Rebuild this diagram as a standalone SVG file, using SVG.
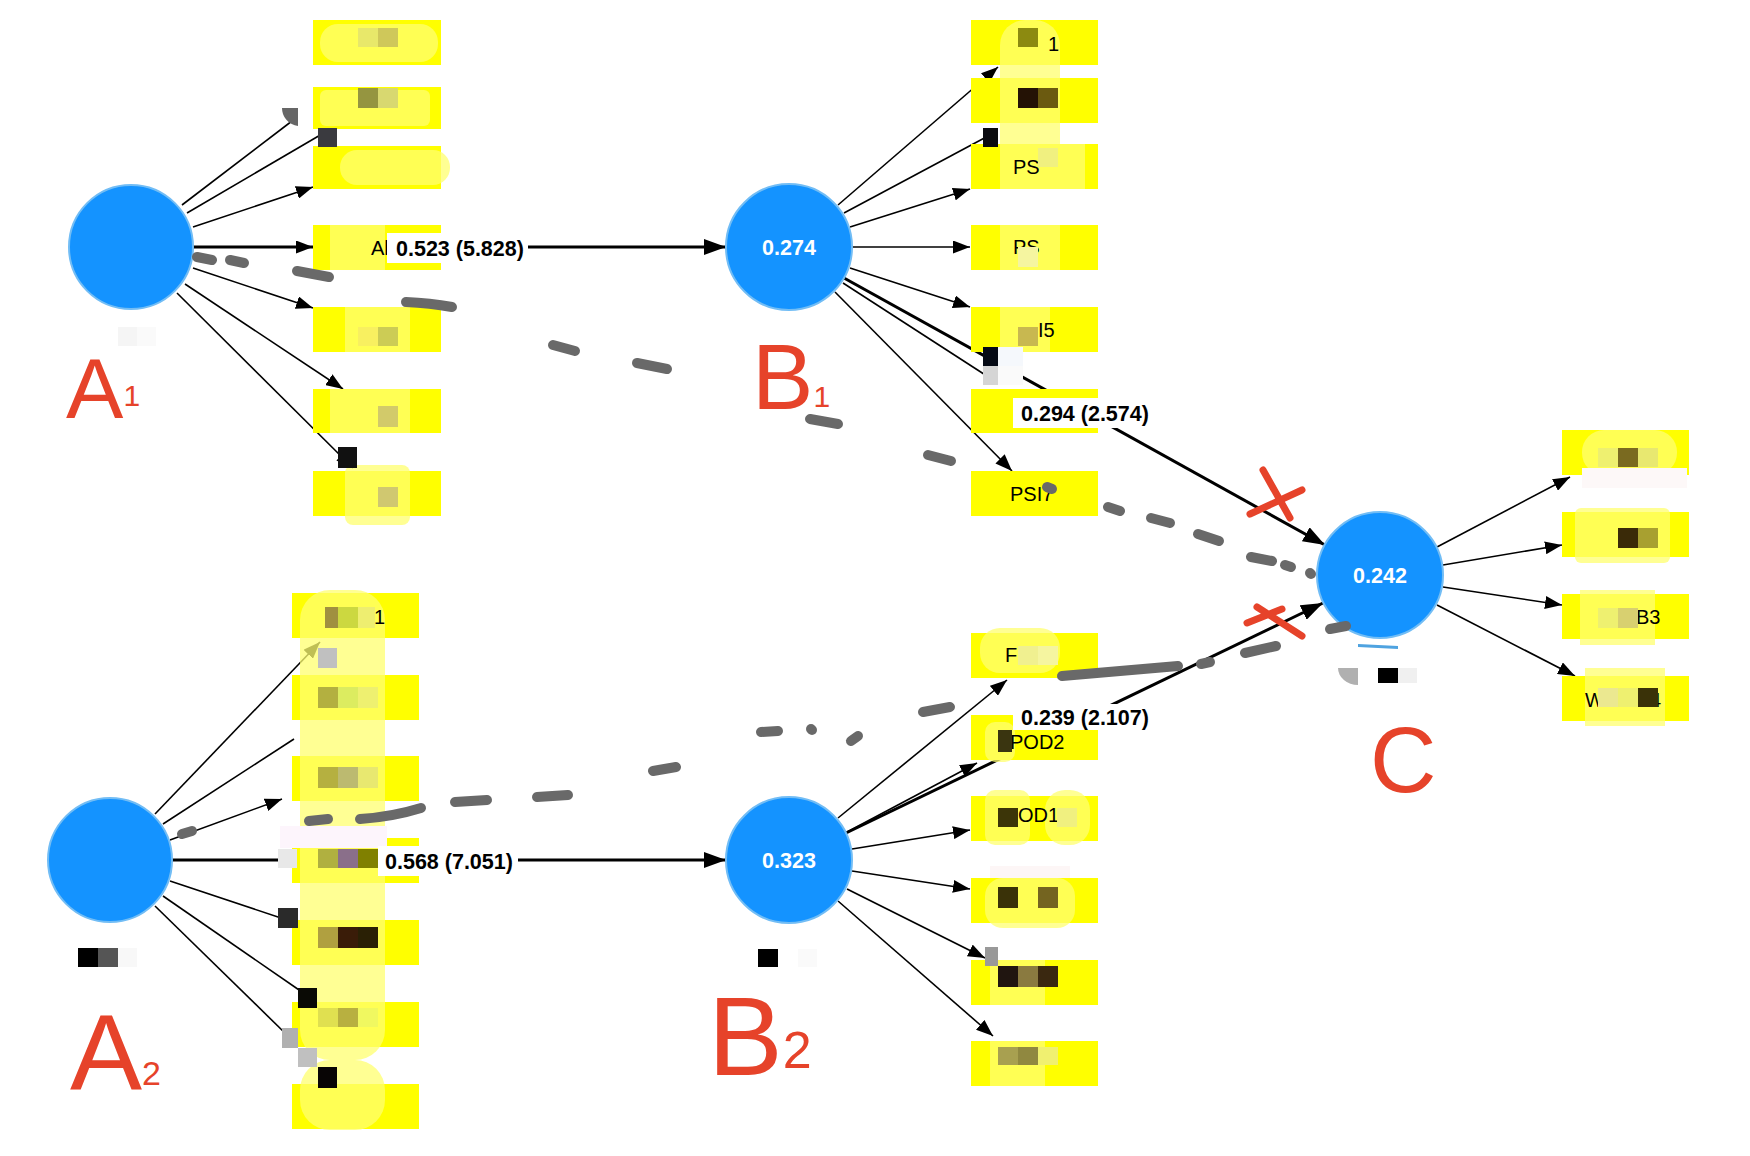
<svg xmlns="http://www.w3.org/2000/svg" width="1750" height="1156" viewBox="0 0 1750 1156">
<style>
.ind{stroke:#000;stroke-width:1.6;fill:none}
.str{stroke:#000;stroke-width:3;fill:none}
.box{fill:#ffff00}
.lite{fill:#ffff70}
.lv{fill:#1493ff;stroke:#72bdf5;stroke-width:2}
.lvt{font-family:"Liberation Sans",Arial,sans-serif;font-weight:bold;font-size:21.5px;fill:#fff;text-anchor:middle}
.plab{font-family:"Liberation Sans",Arial,sans-serif;font-weight:bold;font-size:21.5px;fill:#000}
.bt{font-family:"Liberation Sans",Arial,sans-serif;font-size:20px;fill:#000}
.lbg{fill:#fff}
.dash{stroke:#696969;stroke-width:10;stroke-linecap:round;fill:none}
.red{stroke:#e6432a;stroke-width:7;stroke-linecap:round;fill:none}
.hand{font-family:"Liberation Sans",Arial,sans-serif;fill:#e6432a}
</style>
<defs>
<marker id="ah" markerUnits="userSpaceOnUse" markerWidth="22" markerHeight="16" refX="22" refY="8" orient="auto"><path d="M0,0 L22,8 L0,16 z" fill="#000"/></marker>
<marker id="at" markerUnits="userSpaceOnUse" markerWidth="17" markerHeight="13" refX="17" refY="6.5" orient="auto"><path d="M0,0 L17,6.5 L0,13 z" fill="#000"/></marker>
</defs>
<rect width="1750" height="1156" fill="#fff"/>

<g id="connectors">
<line class="str" x1="193" y1="247" x2="726" y2="247" marker-end="url(#ah)"/>
<line class="str" x1="172" y1="860" x2="726" y2="860" marker-end="url(#ah)"/>
<line class="str" x1="844" y1="278" x2="1325" y2="545" marker-end="url(#ah)"/>
<line class="str" x1="846" y1="833" x2="1323" y2="603" marker-end="url(#ah)"/>
<line class="ind" x1="182" y1="205" x2="292" y2="121"/>
<line class="ind" x1="187" y1="213" x2="322" y2="134"/>
<line class="ind" x1="193" y1="227" x2="313" y2="187" marker-end="url(#at)"/>
<line class="ind" x1="193" y1="247" x2="313" y2="247" marker-end="url(#at)"/>
<line class="ind" x1="193" y1="268" x2="313" y2="308" marker-end="url(#at)"/>
<line class="ind" x1="185" y1="284" x2="343" y2="389" marker-end="url(#at)"/>
<line class="ind" x1="177" y1="293" x2="353" y2="468" marker-end="url(#at)"/>
<line class="ind" x1="838" y1="205" x2="998" y2="67" marker-end="url(#at)"/>
<line class="ind" x1="844" y1="213" x2="990" y2="135"/>
<line class="ind" x1="850" y1="227" x2="970" y2="189" marker-end="url(#at)"/>
<line class="ind" x1="852" y1="247" x2="970" y2="247" marker-end="url(#at)"/>
<line class="ind" x1="850" y1="268" x2="970" y2="307" marker-end="url(#at)"/>
<line class="ind" x1="843" y1="283" x2="990" y2="378"/>
<line class="ind" x1="835" y1="292" x2="1012" y2="471" marker-end="url(#at)"/>
<line class="ind" x1="155" y1="814" x2="320" y2="642" marker-end="url(#at)"/>
<line class="ind" x1="163" y1="824" x2="294" y2="739"/>
<line class="ind" x1="170" y1="840" x2="282" y2="799" marker-end="url(#at)"/>
<line class="ind" x1="172" y1="860" x2="292" y2="860"/>
<line class="ind" x1="170" y1="881" x2="284" y2="919"/>
<line class="ind" x1="163" y1="896" x2="302" y2="992"/>
<line class="ind" x1="155" y1="906" x2="286" y2="1034"/>
<line class="ind" x1="838" y1="818" x2="1007" y2="680" marker-end="url(#at)"/>
<line class="ind" x1="847" y1="832" x2="977" y2="763" marker-end="url(#at)"/>
<line class="ind" x1="852" y1="849" x2="970" y2="830" marker-end="url(#at)"/>
<line class="ind" x1="852" y1="871" x2="970" y2="889" marker-end="url(#at)"/>
<line class="ind" x1="847" y1="889" x2="985" y2="958" marker-end="url(#at)"/>
<line class="ind" x1="838" y1="901" x2="993" y2="1036" marker-end="url(#at)"/>
<line class="ind" x1="1437" y1="547" x2="1570" y2="477" marker-end="url(#at)"/>
<line class="ind" x1="1443" y1="565" x2="1562" y2="545" marker-end="url(#at)"/>
<line class="ind" x1="1443" y1="587" x2="1562" y2="605" marker-end="url(#at)"/>
<line class="ind" x1="1437" y1="605" x2="1575" y2="676" marker-end="url(#at)"/>
</g>

<g id="A1-indicators">
<rect class="box" x="313" y="20" width="128" height="45"/>
<rect class="box" x="313" y="87" width="128" height="42"/>
<rect class="box" x="313" y="146" width="128" height="43"/>
<rect class="box" x="313" y="225" width="128" height="45"/>
<rect class="box" x="313" y="307" width="128" height="45"/>
<rect class="box" x="313" y="389" width="128" height="44"/>
<rect class="box" x="313" y="471" width="128" height="45"/>
</g>
<g id="B1-indicators">
<rect class="box" x="971" y="20" width="127" height="45"/>
<rect class="box" x="971" y="78" width="127" height="45"/>
<rect class="box" x="971" y="144" width="127" height="45"/>
<rect class="box" x="971" y="225" width="127" height="45"/>
<rect class="box" x="971" y="307" width="127" height="45"/>
<rect class="box" x="971" y="389" width="127" height="44"/>
<rect class="box" x="971" y="471" width="127" height="45"/>
</g>
<g id="A2-indicators">
<rect class="box" x="292" y="593" width="127" height="45"/>
<rect class="box" x="292" y="675" width="127" height="45"/>
<rect class="box" x="292" y="756" width="127" height="45"/>
<rect class="box" x="292" y="838" width="127" height="45"/>
<rect class="box" x="292" y="920" width="127" height="45"/>
<rect class="box" x="292" y="1002" width="127" height="45"/>
<rect class="box" x="292" y="1084" width="127" height="45"/>
</g>
<g id="B2-indicators">
<rect class="box" x="971" y="633" width="127" height="45"/>
<rect class="box" x="971" y="715" width="127" height="45"/>
<rect class="box" x="971" y="796" width="127" height="45"/>
<rect class="box" x="971" y="878" width="127" height="45"/>
<rect class="box" x="971" y="960" width="127" height="45"/>
<rect class="box" x="971" y="1041" width="127" height="45"/>
</g>
<g id="C-indicators">
<rect class="box" x="1562" y="430" width="127" height="45"/>
<rect class="box" x="1562" y="512" width="127" height="45"/>
<rect class="box" x="1562" y="594" width="127" height="45"/>
<rect class="box" x="1562" y="676" width="127" height="45"/>
</g>

<g id="brush" opacity="0.75">
<rect class="lite" x="320" y="24" width="118" height="38" rx="18"/>
<rect class="lite" x="320" y="90" width="110" height="36" rx="6"/>
<rect class="lite" x="340" y="150" width="110" height="35" rx="17"/>
<rect class="lite" x="330" y="225" width="55" height="45"/>
<rect class="lite" x="345" y="307" width="65" height="45"/>
<rect class="lite" x="330" y="389" width="80" height="44"/>
<rect class="lite" x="345" y="465" width="65" height="60" rx="8"/>
<rect class="lite" x="1000" y="20" width="60" height="155" rx="25"/>
<rect class="lite" x="1000" y="144" width="85" height="45"/>
<rect class="lite" x="1000" y="225" width="60" height="45"/>
<rect class="lite" x="1000" y="307" width="50" height="45"/>
<rect class="lite" x="300" y="590" width="85" height="470" rx="30"/>
<rect class="lite" x="300" y="1060" width="85" height="70" rx="30"/>
<rect class="lite" x="980" y="628" width="80" height="45" rx="20"/>
<rect class="lite" x="985" y="722" width="30" height="40" rx="10"/>
<rect class="lite" x="985" y="790" width="45" height="55" rx="10"/>
<rect class="lite" x="1045" y="790" width="45" height="55" rx="20"/>
<rect class="lite" x="985" y="878" width="90" height="50" rx="18"/>
<rect class="lite" x="990" y="960" width="55" height="45"/>
<rect class="lite" x="990" y="1041" width="55" height="45"/>
<rect class="lite" x="1582" y="430" width="95" height="45" rx="22"/>
<rect class="lite" x="1575" y="508" width="95" height="55" rx="6"/>
<rect class="lite" x="1580" y="590" width="75" height="55"/>
<rect class="lite" x="1585" y="668" width="80" height="58"/>
</g>

<g id="lv-A1"><circle class="lv" cx="131" cy="247" r="62"/></g>
<g id="lv-B1"><circle class="lv" cx="789" cy="247" r="63"/><text class="lvt" x="789" y="255">0.274</text></g>
<g id="lv-A2"><circle class="lv" cx="110" cy="860" r="62"/></g>
<g id="lv-B2"><circle class="lv" cx="789" cy="860" r="63"/><text class="lvt" x="789" y="868">0.323</text></g>
<g id="lv-C"><circle class="lv" cx="1380" cy="575" r="63"/><text class="lvt" x="1380" y="583">0.242</text></g>

<g id="box-texts">
<text class="bt" x="371" y="255">Al</text>
<text class="bt" x="1048" y="51">1</text>
<text class="bt" x="1013" y="174">PS</text>
<text class="bt" x="1013" y="254">PS</text>
<text class="bt" x="1038" y="337">I5</text>
<text class="bt" x="1010" y="501">PSI7</text>
<text class="bt" x="374" y="624">1</text>
<text class="bt" x="1005" y="662">F</text>
<text class="bt" x="1010" y="749">POD2</text>
<text class="bt" x="1018" y="822">OD1</text>
<text class="bt" x="1636" y="624">B3</text>
<text class="bt" x="1585" y="707">W</text>
<text class="bt" x="1650" y="707">4</text>
</g>

<g id="mosaic">
<rect x="358" y="28" width="20" height="19" fill="#e8e86a"/><rect x="378" y="28" width="20" height="19" fill="#cfc85a"/>
<rect x="358" y="88" width="20" height="20" fill="#959540"/><rect x="378" y="88" width="20" height="20" fill="#d8d870"/>
<rect x="318" y="128" width="19" height="19" fill="#3a3a3f"/>
<path d="M282,108 A18,18 0 0 0 298,126 L298,108 z" fill="#666"/>
<rect x="358" y="327" width="20" height="19" fill="#f8f060"/><rect x="378" y="327" width="20" height="19" fill="#cccc55"/>
<rect x="378" y="406" width="20" height="21" fill="#d2ca6a"/>
<rect x="338" y="447" width="19" height="21" fill="#111"/>
<rect x="378" y="487" width="20" height="20" fill="#d0c870"/>
<rect x="1018" y="28" width="20" height="19" fill="#8c8a10"/>
<rect x="1018" y="88" width="20" height="20" fill="#241205"/><rect x="1038" y="88" width="20" height="20" fill="#6b5a10"/>
<rect x="983" y="128" width="15" height="19" fill="#0a0a10"/>
<rect x="1038" y="148" width="20" height="19" fill="#f0f080"/>
<rect x="1018" y="247" width="20" height="20" fill="#f5f5a0"/>
<rect x="1018" y="327" width="20" height="19" fill="#c8b850"/>
<rect x="983" y="347" width="15" height="19" fill="#050a15"/><rect x="998" y="347" width="25" height="19" fill="#f5f8fc"/>
<rect x="983" y="366" width="15" height="19" fill="#d5d5d5"/><rect x="998" y="366" width="25" height="19" fill="#fafafa"/>
<rect x="318" y="648" width="19" height="20" fill="#c0c0c0"/>
<rect x="325" y="607" width="13" height="21" fill="#a09040"/><rect x="338" y="607" width="20" height="21" fill="#ccd840"/><rect x="358" y="607" width="17" height="21" fill="#eeee70"/>
<rect x="318" y="687" width="20" height="21" fill="#b3b040"/><rect x="338" y="687" width="20" height="21" fill="#dcec60"/><rect x="358" y="687" width="20" height="21" fill="#eef070"/>
<rect x="318" y="767" width="20" height="21" fill="#b5b040"/><rect x="338" y="767" width="20" height="21" fill="#bcba70"/><rect x="358" y="767" width="20" height="21" fill="#e8e870"/>
<rect x="280" y="826" width="107" height="22" fill="#fdf5fc"/>
<rect x="278" y="849" width="19" height="19" fill="#e8e8e8"/>
<rect x="318" y="849" width="20" height="19" fill="#b0b040"/><rect x="338" y="849" width="20" height="19" fill="#8a6f8a"/><rect x="358" y="849" width="20" height="19" fill="#808000"/><rect x="378" y="849" width="10" height="19" fill="#000"/>
<rect x="278" y="908" width="20" height="20" fill="#2a2a2a"/>
<rect x="318" y="927" width="20" height="21" fill="#b0a040"/><rect x="338" y="927" width="20" height="21" fill="#3a1c08"/><rect x="358" y="927" width="20" height="21" fill="#2a2005"/>
<rect x="298" y="988" width="19" height="20" fill="#0a0a05"/>
<rect x="318" y="1008" width="20" height="19" fill="#e0e050"/><rect x="338" y="1008" width="20" height="19" fill="#b8b040"/><rect x="358" y="1008" width="20" height="19" fill="#f0f860"/>
<rect x="282" y="1028" width="16" height="20" fill="#b0b0b0"/>
<rect x="298" y="1048" width="19" height="19" fill="#c0c0c0"/>
<rect x="318" y="1067" width="19" height="21" fill="#080505"/>
<rect x="1018" y="646" width="20" height="19" fill="#f0f090"/><rect x="1038" y="646" width="20" height="19" fill="#f5f5a0"/>
<rect x="998" y="730" width="14" height="22" fill="#3a3510"/>
<rect x="998" y="808" width="20" height="19" fill="#3c3508"/><rect x="1057" y="808" width="20" height="19" fill="#f0f080"/>
<rect x="990" y="866" width="80" height="12" fill="#fdf6f6"/>
<rect x="998" y="887" width="20" height="21" fill="#3a3208"/><rect x="1038" y="887" width="20" height="21" fill="#746420"/>
<rect x="985" y="947" width="13" height="19" fill="#999"/>
<rect x="998" y="966" width="20" height="21" fill="#201510"/><rect x="1018" y="966" width="20" height="21" fill="#8a7a40"/><rect x="1038" y="966" width="20" height="21" fill="#3a2810"/>
<rect x="998" y="1047" width="20" height="18" fill="#a8a050"/><rect x="1018" y="1047" width="20" height="18" fill="#908840"/><rect x="1038" y="1047" width="20" height="18" fill="#f0f070"/>
<rect x="1598" y="448" width="20" height="19" fill="#eef070"/><rect x="1618" y="448" width="20" height="19" fill="#7a6a20"/><rect x="1638" y="448" width="20" height="19" fill="#e8e870"/>
<rect x="1582" y="468" width="105" height="20" fill="#fdf8f8"/>
<rect x="1618" y="528" width="20" height="20" fill="#3a2a08"/><rect x="1638" y="528" width="20" height="20" fill="#a8a030"/>
<rect x="1598" y="608" width="20" height="20" fill="#eef070"/><rect x="1618" y="608" width="20" height="20" fill="#d8d070"/>
<rect x="1598" y="688" width="20" height="19" fill="#ebe890"/><rect x="1618" y="688" width="20" height="19" fill="#eef070"/><rect x="1638" y="688" width="20" height="19" fill="#3a3208"/>
<rect x="118" y="327" width="19" height="19" fill="#f5f5f5"/><rect x="137" y="327" width="19" height="19" fill="#fafafa"/>
<rect x="78" y="948" width="20" height="19" fill="#000"/><rect x="98" y="948" width="20" height="19" fill="#555"/><rect x="118" y="948" width="19" height="19" fill="#f8f8f8"/>
<rect x="758" y="949" width="20" height="18" fill="#000"/><rect x="798" y="949" width="19" height="18" fill="#fafafa"/>
<path d="M1338,668 L1358,668 L1358,685 A20,17 0 0 1 1338,668 z" fill="#b0b0b0"/>
<rect x="1378" y="668" width="20" height="15" fill="#000"/><rect x="1398" y="668" width="19" height="15" fill="#f0f0f0"/>
<path d="M1358,644 L1398,646 L1398,649 L1358,647 z" fill="#4fa3e0"/>
</g>

<g id="path-labels">
<rect class="lbg" x="387" y="233" width="141" height="30"/>
<text class="plab" x="396" y="256">0.523 (5.828)</text>
<rect class="lbg" x="1013" y="398" width="139" height="30"/>
<text class="plab" x="1021" y="421">0.294 (2.574)</text>
<rect class="lbg" x="1013" y="704" width="139" height="26"/>
<text class="plab" x="1021" y="725">0.239 (2.107)</text>
<rect class="lbg" x="378" y="846" width="140" height="30"/>
<text class="plab" x="385" y="869">0.568 (7.051)</text>
</g>

<g id="dashed-strokes">
<path class="dash" d="M197,257 L212,260"/>
<path class="dash" d="M230,260 L244,263"/>
<path class="dash" d="M297,271 L329,277"/>
<path class="dash" d="M406,302 Q430,303 452,307"/>
<path class="dash" d="M553,345 L575,351"/>
<path class="dash" d="M637,363 L667,369"/>
<path class="dash" d="M810,419 L838,424"/>
<path class="dash" d="M928,455 L951,461"/>
<path class="dash" d="M1047,487 L1052,489"/>
<path class="dash" d="M1108,507 L1120,511"/>
<path class="dash" d="M1151,518 L1170,523"/>
<path class="dash" d="M1198,534 L1219,541"/>
<path class="dash" d="M1251,557 L1272,561"/>
<path class="dash" d="M1285,565 L1291,567"/>
<path class="dash" d="M1310,573 L1311,574"/>
<path class="dash" d="M182,834 L192,831"/>
<path class="dash" d="M309,821 L328,819"/>
<path class="dash" d="M360,819 Q392,817 421,808"/>
<path class="dash" d="M455,802 L487,800"/>
<path class="dash" d="M537,797 L568,795"/>
<path class="dash" d="M653,771 L676,767"/>
<path class="dash" d="M761,732 L778,731"/>
<path class="dash" d="M811,729 L812,730"/>
<path class="dash" d="M851,741 L858,736"/>
<path class="dash" d="M923,712 L950,707"/>
<path class="dash" d="M1062,676 Q1120,671 1178,666"/>
<path class="dash" d="M1201,664 L1210,662"/>
<path class="dash" d="M1245,653 L1276,646"/>
<path class="dash" d="M1330,629 L1346,626"/>
</g>

<g id="red-marks">
<path class="red" d="M1250,514 L1302,490 M1263,470 L1290,518"/>
<path class="red" d="M1247,623 L1282,609 M1257,607 L1302,636"/>
<text class="hand" x="66" y="418" font-size="86">A<tspan font-size="30" dy="-12">1</tspan></text>
<text class="hand" x="752" y="409" font-size="92">B<tspan font-size="30" dy="-2">1</tspan></text>
<text class="hand" x="70" y="1090" font-size="108">A<tspan font-size="34" dy="-5">2</tspan></text>
<text class="hand" x="708" y="1075" font-size="112">B<tspan font-size="52" dy="-7">2</tspan></text>
<text class="hand" x="1370" y="792" font-size="92">C</text>
</g>
</svg>
